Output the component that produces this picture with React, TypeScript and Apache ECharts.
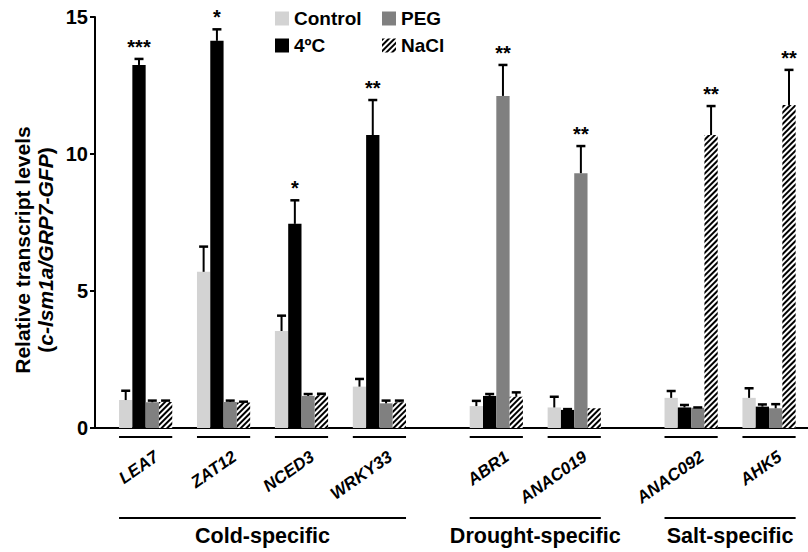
import React, { useEffect, useRef } from 'react';
import * as echarts from 'echarts';

// ---------- data ----------
const genes = ['LEA7', 'ZAT12', 'NCED3', 'WRKY33', 'ABR1', 'ANAC019', 'ANAC092', 'AHK5'];
const geneGroup = [0, 0, 0, 0, 1, 1, 2, 2];
const groupNames = ['Cold-specific', 'Drought-specific', 'Salt-specific'];
const treatments = ['Control', '4ºC', 'PEG', 'NaCl'];

const controlVals = [1.02, 5.7, 3.54, 1.51, 0.8, 0.75, 1.1, 1.1];
const coldVals = [13.25, 14.13, 7.45, 10.69, 1.17, 0.66, 0.75, 0.78];
const pegVals = [0.94, 0.95, 1.17, 0.9, 12.12, 9.3, 0.74, 0.72];
const naclVals = [0.95, 0.93, 1.2, 0.94, 1.14, 0.72, 10.69, 11.79];

const controlErr = [0.34, 0.92, 0.56, 0.28, 0.19, 0.39, 0.25, 0.35];
const coldErr = [0.22, 0.42, 0.86, 1.28, 0.07, 0.03, 0.09, 0.08];
const pegErr = [0.06, 0.05, 0.07, 0.1, 1.13, 0.99, 0.01, 0.15];
const naclErr = [0.05, 0.03, 0.05, 0.06, 0.16, 0, 1.06, 1.28];

const sigMarks = ['***', '*', '*', '**', '**', '**', '**', '**'];
const sigTreatment = [1, 1, 1, 1, 2, 2, 3, 3];

const yTicks = [0, 5, 10, 15];

// ---------- layout / style ----------
const FONT = '"Liberation Sans", Arial, Helvetica, sans-serif';
const BAR_W = 13.3;
const GROUP_GAP = 0.5;
const X_MIN = -0.65;
const X_MAX = 8.5;
const LABEL_SHIFT = 0.14; // moves the rotated gene names slightly right of the group centre
const colors = ['#d3d3d3', '#000000', '#808080', '#ffffff'];

const values = [controlVals, coldVals, pegVals, naclVals];
const errors = [controlErr, coldErr, pegErr, naclErr];
const positions = genes.map((_, i) => i + GROUP_GAP * geneGroup[i]);

export default function App() {
  const ref = useRef<HTMLDivElement>(null);

  useEffect(() => {
    document.body.style.margin = '0';
    document.body.style.overflow = 'hidden';
    const chart = echarts.init(ref.current as HTMLDivElement, null, { renderer: 'svg' });

    const barSeries = treatments.map((name, t) => ({
      name,
      type: 'bar',
      barWidth: BAR_W,
      barGap: '0%',
      silent: true,
      data: genes.map((_, i) => [positions[i], values[t][i]]),
      itemStyle:
        t === 3
          ? {
              color: '#ffffff',
              decal: {
                symbol: 'rect',
                symbolSize: 1,
                color: '#000000',
                backgroundColor: '#ffffff',
                dashArrayX: [1, 0],
                dashArrayY: [2, 1.6],
                rotation: -Math.PI / 4,
              },
            }
          : { color: colors[t] },
    }));

    // error bars + significance marks: one custom series per treatment
    const errSeries = treatments.map((_, t) => ({
      type: 'custom',
      silent: true,
      clip: false,
      z: 10,
      data: genes.map((_, i) => [positions[i], values[t][i], errors[t][i]]),
      encode: { x: 0, y: 1 },
      renderItem: (params: any, api: any) => {
        const i = params.dataIndex;
        const v = values[t][i];
        const e = errors[t][i];
        const base = api.coord([positions[i], v]);
        const cx = base[0] + (t - 1.5) * BAR_W;
        const yErr = api.coord([positions[i], v + e])[1];
        const children: any[] = [];
        if (e > 0) {
          children.push({
            type: 'line',
            shape: { x1: cx, y1: base[1], x2: cx, y2: yErr },
            style: { stroke: '#000', lineWidth: 2 },
          });
          children.push({
            type: 'line',
            shape: { x1: cx - 4.5, y1: yErr, x2: cx + 4.5, y2: yErr },
            style: { stroke: '#000', lineWidth: 2.5 },
          });
        }
        if (t === sigTreatment[i]) {
          children.push({
            type: 'text',
            x: cx,
            y: yErr - 2,
            style: {
              text: sigMarks[i],
              font: `bold 20px ${FONT}`,
              fill: '#000',
              align: 'center',
              verticalAlign: 'bottom',
            },
          });
        }
        return { type: 'group', children };
      },
    }));

    // short underline below each gene's bar group
    const geneSeries = {
      type: 'custom',
      silent: true,
      clip: false,
      z: 10,
      data: genes.map((_, i) => [positions[i], 0]),
      encode: { x: 0, y: 1 },
      renderItem: (params: any, api: any) => {
        const i = params.dataIndex;
        const base = api.coord([positions[i], 0]);
        return {
          type: 'line',
          shape: { x1: base[0] - 2 * BAR_W, y1: base[1] + 9, x2: base[0] + 2 * BAR_W, y2: base[1] + 9 },
          style: { stroke: '#000', lineWidth: 2 },
        };
      },
    };

    const groupData = groupNames.map((_, g) => {
      const idx = genes.map((_, i) => i).filter((i) => geneGroup[i] === g);
      return [positions[idx[0]], positions[idx[idx.length - 1]], g];
    });

    // long group lines with group names
    const groupSeries = {
      type: 'custom',
      silent: true,
      clip: false,
      z: 10,
      data: groupData.map((d) => [d[0], 0, d[1]]),
      encode: { x: 0, y: 1 },
      renderItem: (params: any, api: any) => {
        const d = groupData[params.dataIndex];
        const s = api.coord([d[0], 0]);
        const e = api.coord([d[1], 0]);
        const x1 = s[0] - 2 * BAR_W;
        const x2 = e[0] + 2 * BAR_W;
        return {
          type: 'group',
          children: [
            {
              type: 'line',
              shape: { x1, y1: s[1] + 90, x2, y2: s[1] + 90 },
              style: { stroke: '#000', lineWidth: 2 },
            },
            {
              type: 'text',
              x: (x1 + x2) / 2,
              y: s[1] + 108,
              style: {
                text: groupNames[d[2]],
                font: `bold 21.5px ${FONT}`,
                fill: '#000',
                align: 'center',
                verticalAlign: 'middle',
              },
            },
          ],
        };
      },
    };

    const legendBase = {
      orient: 'vertical',
      top: 9,
      padding: 0,
      itemWidth: 14,
      itemHeight: 14,
      itemGap: 8,
      icon: 'rect',
      selectedMode: false,
      textStyle: { fontFamily: FONT, fontWeight: 'bold', fontSize: 19, color: '#000' },
    };

    chart.setOption({
      animation: false,
      backgroundColor: '#ffffff',
      legend: [
        { ...legendBase, left: 275, data: ['Control', '4ºC'] },
        { ...legendBase, left: 382, data: ['PEG', 'NaCl'] },
      ],
      grid: { left: 95, right: -14, top: 17, bottom: 124, containLabel: false },
      xAxis: [
        {
          type: 'value',
          min: X_MIN,
          max: X_MAX,
          axisLine: { show: true, onZero: false, lineStyle: { color: '#000', width: 2 } },
          axisTick: { show: false },
          axisLabel: { show: false },
          splitLine: { show: false },
        },
        {
          // label-only axis carrying the rotated gene names
          type: 'value',
          position: 'bottom',
          min: X_MIN - LABEL_SHIFT,
          max: X_MAX - LABEL_SHIFT,
          axisLine: { show: false, onZero: false },
          axisTick: { show: false },
          splitLine: { show: false },
          axisLabel: {
            show: true,
            customValues: positions,
            rotate: 35,
            margin: 27,
            color: '#000',
            fontFamily: FONT,
            fontWeight: 'bold',
            fontStyle: 'italic',
            fontSize: 17,
            hideOverlap: false,
            showMinLabel: true,
            showMaxLabel: true,
            formatter: (v: number) => {
              const k = positions.findIndex((p) => Math.abs(p - v) < 1e-6);
              return k >= 0 ? genes[k] : '';
            },
          },
        },
      ],
      yAxis: {
        type: 'value',
        min: yTicks[0],
        max: yTicks[yTicks.length - 1],
        interval: yTicks[1] - yTicks[0],
        axisLine: { show: true, onZero: false, lineStyle: { color: '#000', width: 2 } },
        axisTick: { show: true, length: 5, lineStyle: { color: '#000', width: 2 } },
        axisLabel: {
          margin: 7,
          color: '#000',
          fontFamily: FONT,
          fontWeight: 'bold',
          fontSize: 20,
        },
        splitLine: { show: false },
      },
      graphic: [
        {
          type: 'text',
          x: 22,
          y: 250,
          rotation: Math.PI / 2,
          style: {
            text: 'Relative transcript levels',
            font: `bold 21px ${FONT}`,
            fill: '#000',
            align: 'center',
            verticalAlign: 'middle',
          },
        },
        {
          type: 'text',
          x: 45,
          y: 250,
          rotation: Math.PI / 2,
          style: {
            text: '{n|(}{i|c-lsm1a/GRP7-GFP}{n|)}',
            align: 'center',
            verticalAlign: 'middle',
            rich: {
              n: { font: `bold 21px ${FONT}`, fill: '#000' },
              i: { font: `italic bold 21px ${FONT}`, fill: '#000' },
            },
          },
        },
      ],
      series: [...barSeries, ...errSeries, geneSeries, groupSeries],
    });

    return () => chart.dispose();
  }, []);

  return <div ref={ref} style={{ width: 808, height: 552 }} />;
}
